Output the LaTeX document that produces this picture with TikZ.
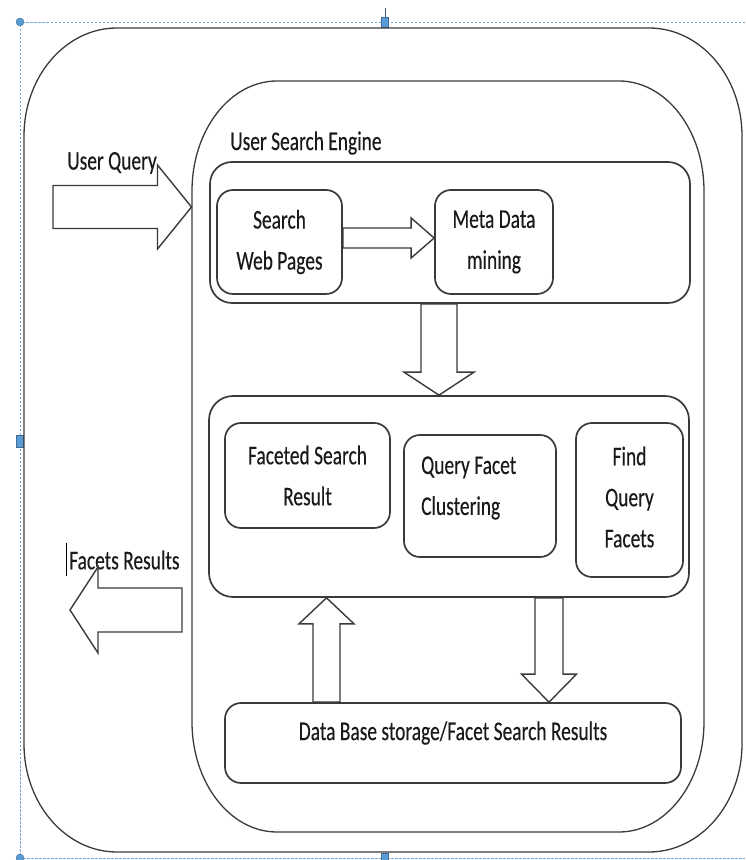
\documentclass[tikz,border=0pt]{standalone}
\usepackage{fontspec}
\newfontfamily\cfont[FakeStretch=0.72,FakeBold=0.3]{Carlito}
\usetikzlibrary{calc}
\definecolor{selblue}{HTML}{5B9BD5}
\definecolor{lncol}{HTML}{3A3A3A}
\definecolor{txcol}{HTML}{1A1A1A}
\tikzset{
  ln/.style={draw=lncol, line width=1.4pt},
  boxnode/.style={ln, line width=1.7pt, rounded corners=16pt, inner sep=0pt, align=center,
    font=\cfont\fontsize{27}{41}\selectfont, text=txcol},
  lbl/.style={inner sep=0pt, font=\cfont\fontsize{27}{41}\selectfont, text=txcol},
  barrow/.style={ln, fill=white, line join=miter},
  selframe/.style={draw=selblue!85, line width=0.8pt, dash pattern=on 2.5pt off 1.5pt},
  handle/.style={fill=selblue, draw=selblue!70!black, line width=0.4pt}
}
% elliptical rounded rectangle: x1,y1,x2,y2,rx,ry
\newcommand\erect[6]{%
  \draw[ln, line width=1.3pt] (#1+#5,#2) -- (#3-#5,#2)
    arc[start angle=-90,end angle=0,x radius=#5,y radius=#6] -- (#3,#4-#6)
    arc[start angle=0,end angle=90,x radius=#5,y radius=#6] -- (#1+#5,#4)
    arc[start angle=90,end angle=180,x radius=#5,y radius=#6] -- (#1,#2+#6)
    arc[start angle=180,end angle=270,x radius=#5,y radius=#6] -- cycle;}
% block arrow: start, end, shaft half width, head half width, head length
\newcommand\blockarrow[5]{%
  \coordinate (ba-h) at ($(#2)!#5!(#1)$);
  \draw[barrow] ($(#1)!#3!-90:(#2)$) -- ($(ba-h)!#3!-90:(#2)$)
    -- ($(ba-h)!#4!-90:(#2)$) -- (#2) -- ($(ba-h)!#4!90:(#2)$)
    -- ($(ba-h)!#3!90:(#2)$) -- ($(#1)!#3!90:(#2)$) -- cycle;}
\begin{document}
\begin{tikzpicture}[x=1pt,y=1pt]
\useasboundingbox (0,0) rectangle (745,860);
% selection frame of the screenshot
\draw[selframe] (745,838) -- (20,838) -- (20,2) -- (745,2);
\draw[selblue!60!black, line width=0.8pt] (385,838) -- (385,852);
\fill[handle] (20,838) circle (4);
\fill[handle] (20,2) circle (4);
\filldraw[handle] (381.5,833) rectangle (388.5,843);
\filldraw[handle] (16.5,413) rectangle (23.5,425);
\filldraw[handle] (381.5,-3) rectangle (388.5,7);
% containers
\erect{24}{8}{742}{832}{93}{108}
\erect{192}{28}{704}{779}{85}{110}
% boxes
\node[boxnode, rounded corners=22pt, minimum width=480pt, minimum height=141pt] (grp1) at (450,627.5) {};
\node[boxnode, minimum width=125pt, minimum height=104pt] (search) at (279.5,618) {Search\\Web Pages};
\node[boxnode, minimum width=118pt, minimum height=104pt] (meta) at (494,618) {Meta Data\\mining};
\node[boxnode, rounded corners=24pt, minimum width=480pt, minimum height=201pt] (grp2) at (449,363.5) {};
\node[boxnode, minimum width=165pt, minimum height=105pt] (faceted) at (307.5,384.5) {Faceted Search\\Result};
\node[boxnode, minimum width=152pt, minimum height=122pt] (qfc) at (480,364) {};
\node[lbl, anchor=west, align=left] (qfctext) at (421,372) {Query Facet\\Clustering};
\node[boxnode, minimum width=107pt, minimum height=154pt] (find) at (629.5,360) {};
\node[lbl, align=center] (findtext) at (629.5,363) {Find\\Query\\Facets};
\node[boxnode, minimum width=456pt, minimum height=80pt] (db) at (453,117) {};
\node[lbl] (dbtext) at (453,127) {Data Base storage/Facet Search Results};
% labels
\node[lbl, anchor=west] (uqtext) at (67,697) {User Query};
\node[lbl, anchor=west] (usetext) at (230,717) {User Search Engine};
\node[lbl, anchor=west] (frtext) at (69,300) {Facets Results};
\draw[black, line width=1.6pt] (66.5,317) -- (66.5,284);
% block arrows
\coordinate (uq-s) at (53,653);
\coordinate (uq-e) at (191.5,653);
\blockarrow{uq-s}{uq-e}{21.5pt}{42pt}{34pt}
\blockarrow{$(search.east)+(0,4)$}{$(meta.west)+(0,4)$}{10pt}{20pt}{23pt}
\blockarrow{$(grp1.south)+(-11,0)$}{$(grp2.north)+(-10,0)$}{18pt}{35pt}{23pt}
\blockarrow{$(grp2.south)+(100,0)$}{$(db.north)+(96,0)$}{14pt}{27.5pt}{28pt}
\blockarrow{$(db.north)+(-126.5,0)$}{$(grp2.south)+(-122.5,0)$}{13.5pt}{27.5pt}{26pt}
\coordinate (fr-s) at (182,250);
\coordinate (fr-e) at (70,250);
\blockarrow{fr-s}{fr-e}{22pt}{43pt}{28pt}
\end{tikzpicture}
\end{document}
